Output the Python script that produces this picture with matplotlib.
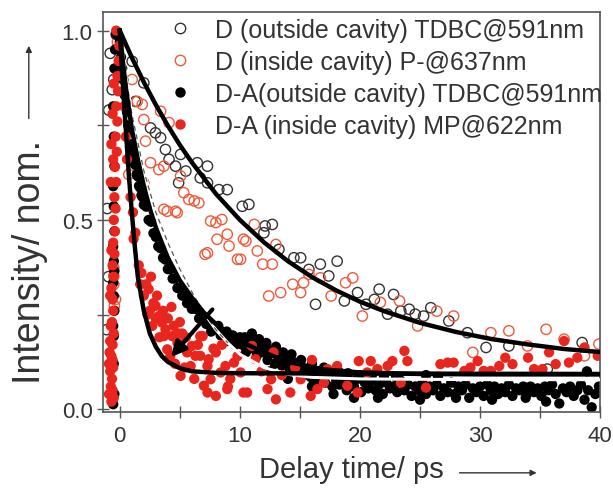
import matplotlib
matplotlib.use("Agg")
import matplotlib.pyplot as plt
from matplotlib.lines import Line2D
from matplotlib.patches import FancyArrowPatch

plt.rcParams['font.family'] = ['Liberation Sans', 'DejaVu Sans']

# --- data (t in ps, normalised intensity) ---

# D (outside cavity) TDBC@591nm, open black
t_do = [-1.1, -1.05, -0.95, -0.92, -0.8, -0.63, -0.5, -0.3, 1.03, 1.3,
        2.0, 2.56, 2.97, 3.4, 3.8, 4.1, 4.64, 4.9, 5.06, 5.5,
        6.45, 6.7, 7.3, 7.3, 8.25, 8.95, 10.2, 10.75, 12.0, 12.1,
        12.7, 13.25, 14.5, 15.06, 15.75, 16.3, 16.7, 17.4, 18.1, 18.7,
        19.8, 20.5, 21.2, 21.6, 22.3, 22.8, 23.4, 24.1, 24.6, 25.3,
        25.9, 27.4, 28.95, 30.5, 32.4, 35.6, 38.5]
y_do = [0.21, 0.53, 0.35, 0.79, 0.94, 0.844, 0.871, 0.99, 0.919, 0.813,
        0.862, 0.743, 0.73, 0.717, 0.686, 0.66, 0.642, 0.598, 0.673, 0.629,
        0.651, 0.611, 0.642, 0.598, 0.58, 0.58, 0.536, 0.541, 0.466, 0.484,
        0.488, 0.422, 0.40, 0.40, 0.369, 0.277, 0.383, 0.352, 0.391, 0.286,
        0.308, 0.277, 0.29, 0.317, 0.251, 0.303, 0.259, 0.264, 0.251, 0.246,
        0.268, 0.233, 0.202, 0.163, 0.167, 0.106, 0.176]

# D (inside cavity) P-@637nm, open red
t_di = [-0.5, -0.5, -0.5, -0.45, -0.36, -0.2, 0.75, 1.03, 1.45, 1.87,
        2.0, 2.0, 2.14, 2.56, 3.25, 3.4, 3.67, 3.67, 3.95, 4.1,
        4.64, 4.78, 5.06, 5.33, 5.75, 6.2, 6.58, 7.1, 7.3, 7.56,
        8.0, 8.1, 8.5, 8.95, 9.1, 9.8, 10.06, 10.3, 10.5, 11.2,
        11.45, 11.9, 12.4, 12.7, 13.0, 13.4, 14.4, 15.06, 15.3, 15.75,
        16.7, 17.6, 18.8, 19.4, 20.2, 21.7, 23.3, 24.8, 26.4, 27.8,
        29.4, 30.9, 32.4, 33.95, 35.5, 37.0, 38.7, 39.9]
y_di = [0.374, 0.352, 0.33, 0.273, 0.29, 0.97, 0.62, 0.871, 0.813, 0.805,
        0.765, 0.598, 0.708, 0.651, 0.633, 0.787, 0.642, 0.528, 0.523, 0.757,
        0.523, 0.519, 0.616, 0.572, 0.554, 0.55, 0.545, 0.409, 0.413, 0.497,
        0.493, 0.449, 0.501, 0.462, 0.431, 0.396, 0.396, 0.449, 0.444, 0.488,
        0.418, 0.383, 0.299, 0.383, 0.435, 0.308, 0.33, 0.308, 0.334, 0.356,
        0.347, 0.299, 0.334, 0.347, 0.246, 0.282, 0.286, 0.22, 0.259, 0.246,
        0.15, 0.202, 0.207, 0.167, 0.211, 0.185, 0.141, 0.172]

# D-A (outside cavity) TDBC@591nm, filled black
t_dao = [-0.55, -0.45, -0.5, -0.55, -0.45, -0.5, -0.55, -0.45, -0.5, -0.55,
         -0.45, -0.5, -0.55, -0.45, -0.5, -0.55, -0.45, -0.5, -0.4, -0.3,
         0.0, 0.1, 0.2, 0.3, 0.4, 0.5, 0.6, 0.7, 0.8, 0.9,
         1.0, 1.1, 1.2, 1.3, 1.4, 1.5, 1.6, 1.7, 1.8, 1.9,
         2.0, 2.2, 2.4, 2.6, 2.8, 3.0, 3.2, 3.4, 3.6, 3.8,
         4.0, 4.2, 4.4, 4.6, 4.8, 5.0, 5.2, 5.4, 5.6, 5.8,
         6.0, 6.3, 6.6, 6.9, 7.2, 7.5, 7.8, 8.1, 8.4, 8.7,
         9.0, 9.3, 9.6, 9.9, 7.6, 8.2, 8.9, 9.4, 10.0, 6.8,
         10.2, 10.5, 10.8, 11.1, 11.4, 11.7, 12.0, 12.3, 12.6, 12.9,
         13.2, 13.5, 13.8, 14.1, 14.4, 14.7, 15.0, 15.3, 15.6, 15.9,
         16.2, 16.5, 16.8, 17.1, 17.4, 17.7, 18.0, 18.3, 18.6, 18.9,
         19.2, 19.5, 19.8, 20.1, 20.4, 20.7, 21.0, 21.3, 21.6, 21.9,
         22.2, 22.5, 22.8, 23.1, 23.4, 23.7, 24.0, 24.3, 24.6, 24.9,
         25.2, 25.5, 25.8, 26.1, 26.4, 26.7, 27.0, 27.3, 27.6, 27.9,
         28.2, 28.5, 28.8, 29.1, 29.4, 29.7, 30.0, 30.3, 30.6, 30.9,
         31.2, 31.5, 31.8, 32.1, 32.4, 32.7, 33.0, 33.3, 33.6, 33.9,
         34.2, 34.5, 34.8, 35.1, 35.4, 35.7, 36.0, 36.3, 36.6, 36.9,
         37.2, 37.5, 37.8, 38.1, 38.4, 38.7, 39.0, 39.3, 39.6, 39.9,
         10.4, 11.0, 11.6, 12.2, 13.0, 13.6, 14.3, 15.1, 16.0, 17.0,
         18.2, 19.0, 20.0, 21.0, 22.0, 23.0, 25.5, 26.5, 38.9, 12.5,
         14.0, 16.0, 17.8, 19.5, 21.5, 25.0, 28.0, 31.0, 33.8, 35.5]
y_dao = [0.013, 0.04, 0.193, 0.22, 0.26, 0.299, 0.334, 0.365, 0.391, 0.43,
         0.47, 0.536, 0.589, 0.642, 0.72, 0.8, 0.9, 0.12, 0.95, 0.99,
         0.97, 0.93, 0.90, 0.87, 0.83, 0.80, 0.785, 0.75, 0.735, 0.70,
         0.69, 0.675, 0.65, 0.645, 0.62, 0.615, 0.59, 0.585, 0.565, 0.56,
         0.54, 0.535, 0.50, 0.495, 0.465, 0.455, 0.43, 0.425, 0.40, 0.395,
         0.37, 0.37, 0.345, 0.345, 0.32, 0.32, 0.30, 0.30, 0.28, 0.285,
         0.265, 0.265, 0.24, 0.245, 0.225, 0.225, 0.21, 0.21, 0.195, 0.2,
         0.18, 0.19, 0.17, 0.175, 0.205, 0.22, 0.205, 0.195, 0.19, 0.25,
         0.17, 0.15, 0.18, 0.16, 0.14, 0.165, 0.15, 0.13, 0.155, 0.12,
         0.14, 0.115, 0.13, 0.11, 0.125, 0.10, 0.115, 0.09, 0.105, 0.085,
         0.10, 0.075, 0.09, 0.07, 0.095, 0.06, 0.08, 0.065, 0.085, 0.05,
         0.075, 0.06, 0.08, 0.045, 0.07, 0.055, 0.075, 0.05, 0.065, 0.04,
         0.07, 0.055, 0.06, 0.045, 0.075, 0.05, 0.065, 0.035, 0.06, 0.05,
         0.07, 0.04, 0.06, 0.05, 0.065, 0.035, 0.055, 0.045, 0.07, 0.04,
         0.06, 0.05, 0.065, 0.03, 0.055, 0.045, 0.06, 0.035, 0.065, 0.05,
         0.06, 0.04, 0.055, 0.045, 0.065, 0.035, 0.055, 0.05, 0.06, 0.04,
         0.06, 0.045, 0.055, 0.035, 0.06, 0.05, 0.065, 0.04, 0.015, 0.055,
         0.045, 0.06, 0.035, 0.05, 0.065, 0.025, 0.05, 0.005, 0.04, 0.06,
         0.19, 0.20, 0.185, 0.175, 0.165, 0.15, 0.145, 0.13, 0.12, 0.11,
         0.10, 0.095, 0.09, 0.09, 0.085, 0.085, 0.09, 0.085, 0.10, 0.10,
         0.08, 0.06, 0.04, 0.03, 0.03, 0.025, 0.03, 0.025, 0.03, 0.02]

# D-A (inside cavity) MP@622nm, filled red
t_dai = [-0.7, -0.6, -0.65, -0.55, -0.7, -0.6, -0.5, -0.65, -0.55, -0.6,
         -0.7, -0.5, -0.6, -0.45, -0.55, -0.4, -0.5, -0.35, -0.45, -0.3,
         -0.4, -0.25, -0.35, -0.2, -0.3, -0.15, -0.2, -0.1, -0.05, -0.3,
         -0.9, -0.8, -0.85, -0.75, -0.8, -0.6, -0.9, -0.5, -0.75, -0.8,
         -0.7, -0.75, -0.7, -0.6, -0.55, -0.5,
         0.2, 0.35, 0.5, 0.6, 0.9, 1.15, 1.3, 1.58, 1.7, 2.0,
         2.3, 2.4, 2.7, 2.8, 2.97, 3.25, 3.5, 3.67, 3.8, 3.95,
         4.37, 4.8, 4.9, 5.06, 5.6, 5.9, 6.0, 6.3, 6.7, 6.7,
         6.9, 7.0, 7.3, 7.3, 7.4, 7.56, 8.0, 8.0, 8.4, 8.8,
         8.95, 9.5, 10.06, 10.3, 10.6, 11.0, 11.3, 12.3, 12.6, 12.8,
         13.0, 14.2, 15.06, 15.9, 16.45, 17.0, 17.3, 18.1, 18.95, 19.8,
         19.9, 20.6, 20.9, 21.45, 22.3, 22.7, 23.4, 23.7, 23.95, 25.5,
         26.7, 27.3, 27.8, 28.7, 29.2, 29.8, 30.3, 30.9, 31.6, 32.1,
         32.7, 34.0, 34.5, 35.2, 35.75, 36.3, 37.0, 37.4, 38.1, 38.7,
         39.8, 1.8, 2.2, 2.5, 2.6, 3.0, 3.1, 3.3, 3.6, 4.0,
         4.2, 4.5, 4.6, 5.2, 5.4, 5.5, 6.2, 8.5, 9.2, 9.8,
         11.8, 13.5, 14.6, 16.0, 1.1, 4.3, 5.0, 6.5, 7.8, 9.0]
y_dai = [0.02, 0.05, 0.08, 0.11, 0.14, 0.17, 0.20, 0.23, 0.26, 0.29,
         0.32, 0.35, 0.38, 0.41, 0.44, 0.47, 0.50, 0.53, 0.56, 0.60,
         0.64, 0.68, 0.72, 0.76, 0.80, 0.84, 0.88, 0.92, 0.96, 1.0,
         0.04, 0.10, 0.15, 0.06, 0.18, 0.13, 0.12, 0.03, 0.22, 0.30,
         0.42, 0.60, 0.70, 0.78, 0.66, 0.86,
         0.88, 0.80, 0.72, 0.66, 0.56, 0.45, 0.466, 0.38, 0.33, 0.30,
         0.25, 0.317, 0.22, 0.28, 0.273, 0.246, 0.229, 0.193, 0.211, 0.158,
         0.193, 0.176, 0.2, 0.088, 0.15, 0.114, 0.167, 0.141, 0.193, 0.141,
         0.193, 0.062, 0.114, 0.044, 0.132, 0.079, 0.15, 0.035, 0.097, 0.114,
         0.053, 0.123, 0.097, 0.044, 0.044, 0.167, 0.132, 0.053, 0.079, 0.15,
         0.026, 0.044, 0.079, 0.035, 0.053, 0.07, 0.106, 0.114, 0.062, 0.044,
         0.127, 0.097, 0.127, 0.106, 0.114, 0.127, 0.07, 0.154, 0.127, 0.057,
         0.119, 0.123, 0.123, 0.101, 0.11, 0.127, 0.101, 0.101, 0.114, 0.136,
         0.119, 0.136, 0.106, 0.106, 0.15, 0.119, 0.18, 0.123, 0.136, 0.163,
         0.141, 0.36, 0.33, 0.26, 0.35, 0.24, 0.30, 0.19, 0.26, 0.24,
         0.14, 0.22, 0.12, 0.20, 0.11, 0.19, 0.08, 0.17, 0.08, 0.14,
         0.10, 0.09, 0.11, 0.13, 0.52, 0.27, 0.23, 0.17, 0.16, 0.06]

# fit curves
t_slow = [0, 1, 2, 3, 4, 5, 6, 8, 10, 12, 14, 16, 18, 20, 22, 25, 28, 31, 34, 37, 40]
y_slow = [1.0, 0.929, 0.864, 0.804, 0.749, 0.698, 0.652, 0.569, 0.500, 0.441, 0.391,
          0.349, 0.314, 0.284, 0.259, 0.228, 0.204, 0.185, 0.171, 0.159, 0.151]

t_mid = [0, 0.25, 0.5, 1, 1.5, 2, 2.5, 3, 4, 5, 6, 7, 8, 10, 12, 14, 17, 20, 25, 30, 40]
y_mid = [1.0, 0.92, 0.85, 0.74, 0.66, 0.59, 0.53, 0.48, 0.40, 0.34, 0.295, 0.255,
         0.225, 0.18, 0.15, 0.125, 0.105, 0.097, 0.093, 0.092, 0.092]

t_dash = [0, 0.5, 1, 2, 3, 4, 5, 6, 7, 8, 9, 10, 12, 14, 16, 20, 30, 40]
y_dash = [1.0, 0.88, 0.78, 0.63, 0.52, 0.44, 0.37, 0.31, 0.255, 0.21, 0.175, 0.145,
          0.11, 0.092, 0.084, 0.08, 0.078, 0.078]

t_fast = [0, 0.25, 0.5, 0.75, 1.0, 1.25, 1.5, 2.0, 2.5, 3.0, 3.5, 4.0, 5.0, 6.0, 8.0, 10, 20, 40]
y_fast = [1.0, 0.86, 0.74, 0.62, 0.52, 0.43, 0.35, 0.26, 0.20, 0.165, 0.14, 0.125,
          0.108, 0.10, 0.096, 0.095, 0.094, 0.093]

labels = ['D (outside cavity) TDBC@591nm', 'D (inside cavity) P-@637nm',
          'D-A(outside cavity) TDBC@591nm', 'D-A (inside cavity) MP@622nm']

red = '#e8261e'
red_open = '#ef5a3a'
txt = '#333333'

fig = plt.figure(figsize=(6.13, 4.89), dpi=100)
ax = fig.add_axes([0.168, 0.155, 0.811, 0.819])

ms = 55
ax.scatter(t_do, y_do, s=ms, facecolors='none', edgecolors='#333333', linewidths=1.0, zorder=2)
ax.scatter(t_di, y_di, s=ms, facecolors='none', edgecolors=red_open, linewidths=1.0, zorder=2)
ax.scatter(t_dao, y_dao, s=ms, color='black', edgecolors='none', zorder=2)
ax.scatter(t_dai, y_dai, s=ms, color=red, edgecolors='none', zorder=2)

# fits
ax.plot(t_dash, y_dash, color='white', lw=2.2, zorder=3)
ax.plot(t_dash[:11], y_dash[:11], color='#555555', lw=0.9, ls=(0, (4, 3)), zorder=3)
ax.plot(t_slow, y_slow, color='black', lw=3.2, zorder=4)
ax.plot(t_mid, y_mid, color='black', lw=3.2, zorder=4)
ax.plot(t_fast, y_fast, color='black', lw=3.2, zorder=4)

ax.annotate('', xy=(4.1, 0.132), xytext=(7.86, 0.269),
            arrowprops=dict(arrowstyle='-|>', lw=3, color='black', mutation_scale=22),
            zorder=5)

ax.set_xlim(-1.4, 40)
ax.set_ylim(-0.008, 1.05)
ax.set_xticks([0, 10, 20, 30, 40])
ax.set_xticks([5, 15, 25, 35], minor=True)
ax.set_yticks([0.0, 0.5, 1.0])
ax.set_yticklabels(['0.0', '0.5', '1.0'])
ax.set_yticks([0.25, 0.75], minor=True)
ax.tick_params(which='both', direction='inout', length=9, width=1.0, color='#555555',
               labelcolor=txt, labelsize=16)
ax.tick_params(axis='x', pad=5)
ax.tick_params(axis='y', pad=3)
for sp in ax.spines.values():
    sp.set_color('#555555')
    sp.set_linewidth(1.2)

handles = [
    Line2D([], [], ls='none', marker='o', ms=7.5, mfc='none', mec='#333333', mew=1.0),
    Line2D([], [], ls='none', marker='o', ms=7.5, mfc='none', mec=red_open, mew=1.0),
    Line2D([], [], ls='none', marker='o', ms=7.5, mfc='black', mec='black', mew=0),
    Line2D([], [], ls='none', marker='o', ms=7.5, mfc=red, mec=red, mew=0),
]
leg = ax.legend(handles, labels, loc='upper left', bbox_to_anchor=(0.13, 0.985),
                frameon=False, fontsize=18, labelcolor=txt, numpoints=1, handlelength=1.0,
                handletextpad=0.9, labelspacing=0.32, borderaxespad=0, borderpad=0)
leg.set_zorder(20)

# axis titles with arrows
fig.text(0.574, 0.038, 'Delay time/ ps', ha='center', va='center', fontsize=21, color=txt)
fig.text(0.049, 0.465, 'Intensity/ nom.', ha='center', va='center', rotation=90,
         fontsize=27, color=txt)
fig.patches.append(FancyArrowPatch(
    (0.745, 0.031), (0.88, 0.031), transform=fig.transFigure, arrowstyle='-|>',
    mutation_scale=9, lw=1.0, color=txt))
fig.patches.append(FancyArrowPatch(
    (0.047, 0.75), (0.047, 0.91), transform=fig.transFigure, arrowstyle='-|>',
    mutation_scale=9, lw=1.0, color=txt))

fig.savefig('out.png', dpi=100)
